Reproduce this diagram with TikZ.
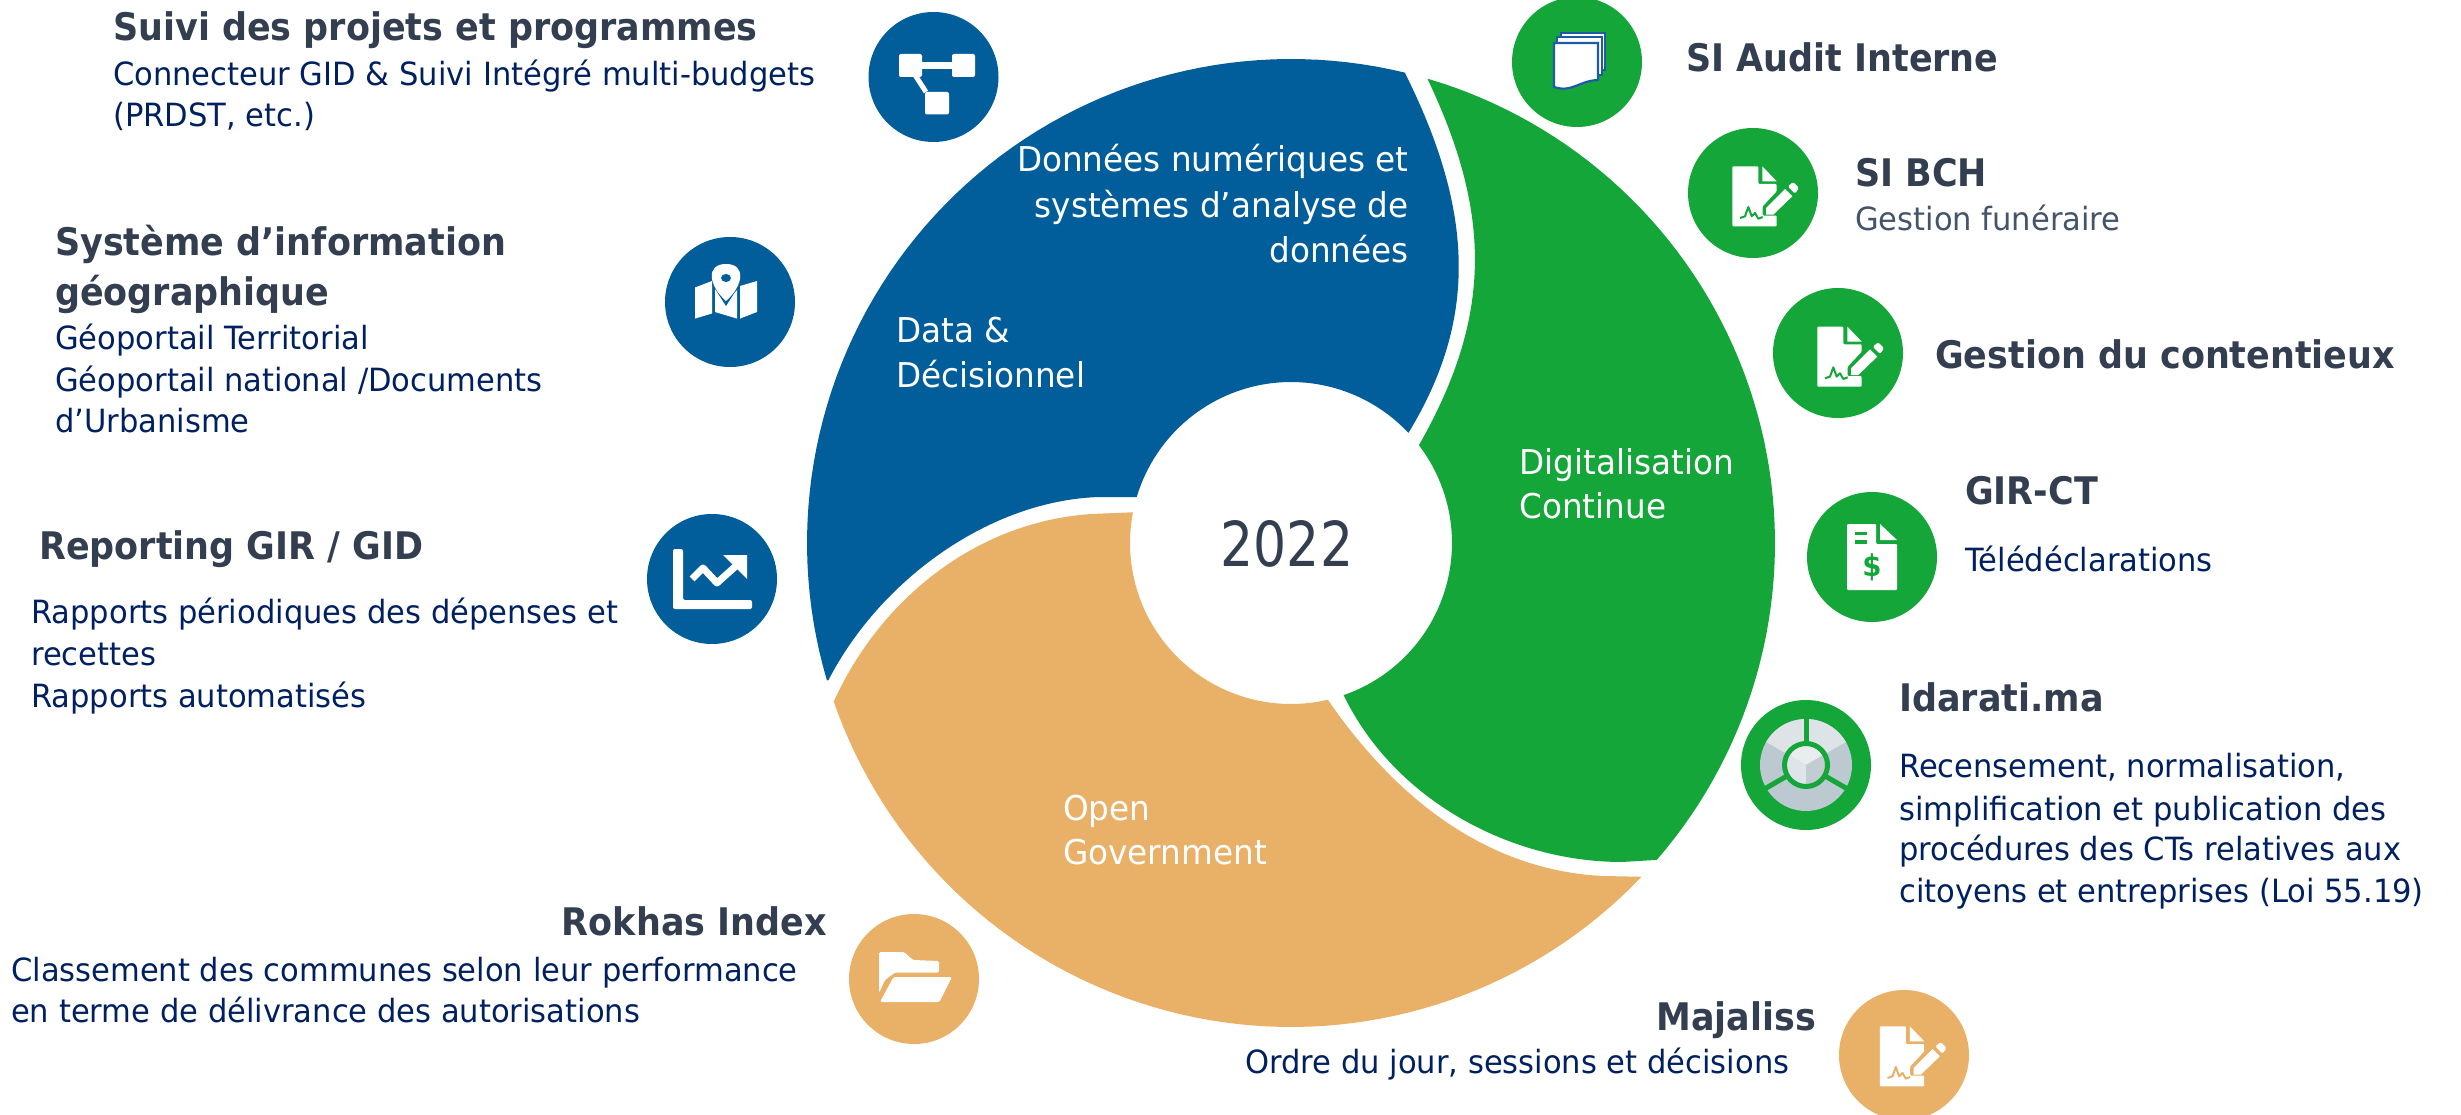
\documentclass[tikz,border=0pt]{standalone}
\usepackage{fontspec}
\setmainfont[FakeStretch=0.955,BoldFeatures={FakeStretch=0.92}]{DejaVu Sans}
\newfontfamily\yearfont[FakeStretch=0.84]{DejaVu Sans}
\definecolor{bluefill}{HTML}{025E9B}
\definecolor{greenfill}{HTML}{15A63A}
\definecolor{orangefill}{HTML}{E9B068}
\definecolor{slate}{HTML}{333F50}
\definecolor{navy}{HTML}{002060}
\definecolor{greytext}{HTML}{44546A}
\definecolor{sheet}{HTML}{1F5AA6}
\definecolor{discmid}{HTML}{BCC9D0}
\definecolor{disclight}{HTML}{DDE3E7}
\definecolor{facetop}{HTML}{E9EDF0}
\definecolor{faceleft}{HTML}{DFE4E9}
\definecolor{faceright}{HTML}{C1CDD3}
\newcommand{\cx}{1291}
\newcommand{\cy}{543}
\tikzset{
  headtext/.style={anchor=base west,inner sep=0pt,text=slate,font=\fontsize{38}{46}\selectfont\bfseries},
  subtext/.style={anchor=base west,inner sep=0pt,text=navy,font=\fontsize{32}{40}\selectfont},
  greytxt/.style={anchor=base west,inner sep=0pt,text=greytext,font=\fontsize{32}{40}\selectfont},
  whitetext/.style={anchor=base west,inner sep=0pt,text=white,font=\fontsize{34.2}{44}\selectfont},
  iconbg/.style={circle,minimum size=130pt,inner sep=0pt},
  pics/docsign/.style={code={
    \fill[white,rounded corners=1pt] (-20.7,-26.7) -- (5.3,-26.7) -- (5.3,-9) -- (23.7,-9) -- (23.7,-1.7) -- (9.7,13.3) -- (9.7,22.7) -- (23.7,22.7) -- (23.7,33.3) -- (-20.7,33.3) -- cycle;
    \fill[white] (9.3,-26.7) -- (23.7,-11.7) -- (9.3,-11.7) -- cycle;
    \fill[white] (13,15) -- (13,21.7) -- (20.3,21.7) -- (39.3,3.3) -- (32,-4) -- cycle;
    \fill[white,rounded corners=1.5pt] (34.7,-6.7) -- (40.3,-11) -- (46,-5) -- (42,0.7) -- cycle;
    \draw[#1,line width=2pt,line join=round] (-13,25) -- (-8,23.3) -- (-4.7,14) -- (-1.3,23.3) -- (2,20) -- (5.3,25.7) -- (9.7,24);
  }},
}
\begin{document}
\begin{tikzpicture}[x=1pt,y=-1pt]
\useasboundingbox (0,0) rectangle (2461,1115);
\clip (0,0) rectangle (2461,1115);
% ---- swirl
\fill[bluefill] plot[domain=196.5:76.4,samples=70,variable=\t] ({\cx+484*cos(\t)},{\cy-484*sin(\t)})
  .. controls (1476,215) and (1476,321) .. (1409,432)
  -- plot[domain=43.2:163.4,samples=50,variable=\t] ({\cx+161*cos(\t)},{\cy-161*sin(\t)})
  -- (1100,497) .. controls (990,500) and (880,580) .. (828.5,680) -- cycle;
\fill[greenfill] plot[domain=73.6:-40.9,samples=70,variable=\t] ({\cx+484*cos(\t)},{\cy-484*sin(\t)})
  -- (1622,862) .. controls (1510,862) and (1395,800) .. (1344,696)
  -- plot[domain=-70.9:37.4,samples=50,variable=\t] ({\cx+161*cos(\t)},{\cy-161*sin(\t)})
  .. controls (1492,317) and (1492,215) .. (1428,80) -- cycle;
\fill[orangefill] plot[domain=199:316.4,samples=70,variable=\t] ({\cx+484*cos(\t)},{\cy-484*sin(\t)})
  -- (1603,876) .. controls (1480,870) and (1390,790) .. (1328,700)
  -- plot[domain=283.3:169,samples=50,variable=\t] ({\cx+161*cos(\t)},{\cy-161*sin(\t)})
  -- (1091,514) .. controls (975,522) and (880,600) .. (834,701) -- cycle;
% ---- icon discs
\node[iconbg,fill=bluefill] (iflow) at (933.5,77) {};
\node[iconbg,fill=bluefill] (imap) at (730,302) {};
\node[iconbg,fill=bluefill] (ichart) at (712,579) {};
\node[iconbg,fill=greenfill] (iaudit) at (1577,62) {};
\node[iconbg,fill=greenfill] (ibch) at (1753,193) {};
\node[iconbg,fill=greenfill] (icont) at (1838,353) {};
\node[iconbg,fill=greenfill] (igir) at (1872,557) {};
\node[iconbg,fill=greenfill] (iidar) at (1806,765) {};
\node[iconbg,fill=orangefill] (irok) at (914,979) {};
\node[iconbg,fill=orangefill] (imaj) at (1904,1055) {};
% flow icon
\fill[white,rounded corners=2pt] (899,54) rectangle (922,77);
\fill[white,rounded corners=2pt] (952,54) rectangle (975,77);
\fill[white,rounded corners=2pt] (925,92) rectangle (949,114.5);
\fill[white] (920,62) rectangle (954,69);
\draw[white,line width=5pt] (915,75) -- (926,92);
% map icon
\fill[white] (695,287.5) -- (712,281) -- (712,313.5) -- (695,318.6) -- cycle;
\fill[white] (715,286) -- (726,302) -- (737,290) -- (737,318.6) -- (715,312) -- cycle;
\fill[white] (740,286) -- (757,281) -- (757,312) -- (740,318.6) -- cycle;
\fill[bluefill] (712,284) -- (726,306) -- (740,284) -- (726,262) -- cycle;
\fill[white] (726,264) .. controls (706,264) and (708,285) .. (726,301) .. controls (744,285) and (746,264) .. (726,264) -- cycle;
\fill[bluefill] (726,278) ellipse (5pt and 4pt);
% chart icon
\fill[white,rounded corners=2pt] (673,549) -- (683,549) -- (683,600) -- (752,600) -- (752,609) -- (673,609) -- cycle;
\draw[white,line width=7pt,line join=round] (692,579) -- (703,568) -- (717,583) -- (737,565);
\fill[white] (723,555) -- (747,555) -- (747,579) -- cycle;
% audit icon
\draw[sheet,fill=white,line width=2.2pt] (1561,33) rectangle (1605,70);
\draw[sheet,fill=white,line width=2.2pt] (1557,37) rectangle (1602,75);
\draw[sheet,fill=white,line width=2.2pt] (1554,43) -- (1598,43) -- (1598,80) .. controls (1578,81) and (1572,93) .. (1554,87) -- cycle;
% document + signature icons
\pic at (1753,193) {docsign=greenfill};
\pic at (1838,353.3) {docsign=greenfill};
\pic at (1900.5,1053) {docsign=orangefill};
% GIR-CT icon
\fill[white,rounded corners=1pt] (1847,524) -- (1876,524) -- (1876,544) -- (1897,544) -- (1897,590) -- (1847,590) -- cycle;
\fill[white] (1880,524) -- (1897,540) -- (1880,540) -- cycle;
\fill[greenfill] (1855,532) rectangle (1867,535);
\fill[greenfill] (1855,540) rectangle (1867,544);
\node[inner sep=0pt,text=greenfill,font=\fontsize{30}{30}\selectfont\bfseries] (dollar) at (1872,567) {\$};
% Idarati icon
\fill[discmid] (1806,765) circle (46pt);
\fill[disclight] (1806,765) -- ({1806+46*cos(30)},{765-46*sin(30)}) -- plot[domain=30:150,samples=30,variable=\t] ({1806+46*cos(\t)},{765-46*sin(\t)}) -- cycle;
\fill[facetop] (1806,765) -- ({1806+19*cos(30)},{765-19*sin(30)}) -- plot[domain=30:150,samples=20,variable=\t] ({1806+19*cos(\t)},{765-19*sin(\t)}) -- cycle;
\fill[faceleft] (1806,765) -- plot[domain=150:270,samples=20,variable=\t] ({1806+19*cos(\t)},{765-19*sin(\t)}) -- cycle;
\fill[faceright] (1806,765) -- plot[domain=270:390,samples=20,variable=\t] ({1806+19*cos(\t)},{765-19*sin(\t)}) -- cycle;
\draw[greenfill,line width=5pt] (1806,765) circle (21.5pt);
\draw[greenfill,line width=5pt] (1806,743) -- (1806,718);
\draw[greenfill,line width=5pt] ({1806+21.5*cos(210)},{765-21.5*sin(210)}) -- ({1806+47*cos(210)},{765-47*sin(210)});
\draw[greenfill,line width=5pt] ({1806+21.5*cos(330)},{765-21.5*sin(330)}) -- ({1806+47*cos(330)},{765-47*sin(330)});
% folder icon
\fill[white,rounded corners=1.5pt] (879,952) -- (904,952) -- (913,960) -- (939,961) -- (939,972.5) -- (895,972.5) -- (885,980) -- (879,993) -- cycle;
\fill[white,rounded corners=1.5pt] (893.5,977) -- (952,977) -- (939.4,1002) -- (880,1002) -- cycle;
% ---- texts
\node[headtext] (t1) at (113,41) {Suivi des projets et programmes};
\node[subtext] (t1a) at (113,86) {Connecteur GID \& Suivi Intégré multi-budgets};
\node[subtext] (t1b) at (113,127) {(PRDST, etc.)};
\node[headtext] (t2) at (55,256) {Système d’information};
\node[headtext] (t2b) at (55,306) {géographique};
\node[subtext] (t2c) at (55,349) {Géoportail Territorial};
\node[subtext] (t2d) at (55,391) {Géoportail national /Documents};
\node[subtext] (t2e) at (55,432) {d’Urbanisme};
\node[headtext] (t3) at (39,559) {Reporting GIR / GID};
\node[subtext] (t3a) at (31,623) {Rapports périodiques des dépenses et};
\node[subtext] (t3b) at (31,665) {recettes};
\node[subtext] (t3c) at (31,707) {Rapports automatisés};
\node[headtext,anchor=base east] (t4) at (827,935) {Rokhas Index};
\node[subtext] (t4a) at (11,981) {Classement des communes selon leur performance};
\node[subtext] (t4b) at (11,1022) {en terme de délivrance des autorisations};
\node[headtext,anchor=base east] (t5) at (1816,1030) {Majaliss};
\node[subtext] (t5a) at (1245,1073) {Ordre du jour, sessions et décisions};
\node[headtext] (t6) at (1686,72) {SI Audit Interne};
\node[headtext] (t7) at (1855,187) {SI BCH};
\node[greytxt] (t7a) at (1855,231) {Gestion funéraire};
\node[headtext] (t8) at (1935,369) {Gestion du contentieux};
\node[headtext] (t9) at (1965,504) {GIR-CT};
\node[subtext] (t9a) at (1965,571) {Télédéclarations};
\node[headtext] (t10) at (1899,711) {Idarati.ma};
\node[subtext] (t10a) at (1899,777) {Recensement, normalisation,};
\node[subtext] (t10b) at (1899,820) {simplification et publication des};
\node[subtext] (t10c) at (1899,860) {procédures des CTs relatives aux};
\node[subtext] (t10d) at (1899,902) {citoyens et entreprises (Loi 55.19)};
\node[whitetext,anchor=base east] (w1) at (1409,172) {Données numériques et};
\node[whitetext,anchor=base east] (w2) at (1409,218) {systèmes d’analyse de};
\node[whitetext,anchor=base east] (w3) at (1409,263) {données};
\node[whitetext] (w4) at (896,342) {Data \&};
\node[whitetext] (w5) at (896,388) {Décisionnel};
\node[whitetext] (w6) at (1519,474) {Digitalisation};
\node[whitetext] (w7) at (1519,518) {Continue};
\node[whitetext] (w8) at (1063,820) {Open};
\node[whitetext] (w9) at (1063,864) {Government};
\node[anchor=base,inner sep=0pt,text=slate,font=\yearfont\fontsize{62}{70}\selectfont] (year) at (1287,566) {2022};
\end{tikzpicture}
\end{document}
